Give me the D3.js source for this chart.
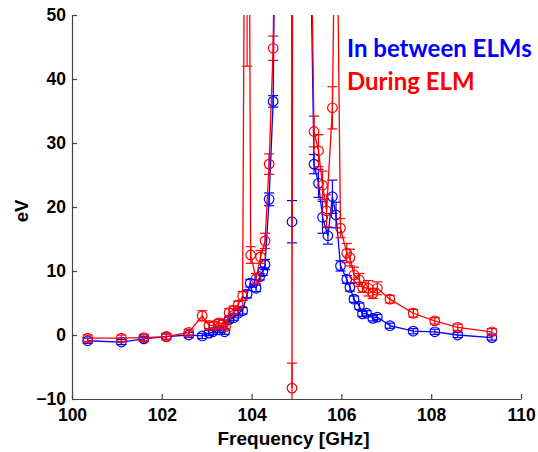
<!DOCTYPE html>
<html>
<head>
<meta charset="utf-8">
<script src="https://cdn.jsdelivr.net/npm/d3@7/dist/d3.min.js"></script>
<style>
  html, body { margin: 0; padding: 0; background: #fff; }
  svg { display: block; }
  .tick text { font-family: "Liberation Sans", Arial, sans-serif; font-weight: bold; font-size: 17.5px; fill: #000; }
  .axis path, .axis line { stroke: #444; stroke-width: 1.2; }
</style>
</head>
<body>
<svg id="chart" width="538" height="452"></svg>
<script>
// Electron temperature spectrum around the cyclotron resonance (eV vs GHz)

// In between ELMs
const betweenFreq = [100.35, 101.1, 101.6, 102.1, 102.6, 102.9, 103.05, 103.14, 103.28, 103.4,
  103.5, 103.6, 103.7, 103.8, 103.9, 103.97, 104.1, 104.18, 104.25, 104.3,
  104.39, 104.48, 104.83, 104.9, 104.95, 105.39, 105.49, 105.58, 105.7, 105.8,
  105.88, 105.98, 106.12, 106.19, 106.28, 106.4, 106.47, 106.56, 106.7, 106.8,
  107.08, 107.6, 108.08, 108.59, 109.35];
const betweenEV = [-0.9, -1.1, -0.6, -0.25, 0.0, -0.15, 0.3, 0.5, 0.8, 0.5,
  2.4, 2.7, 3.4, 3.8, 6.4, 8.1, 7.3, 9.1, 9.9, 11.0,
  21.2, 36.5, 280, 17.7, 220, 26.7, 23.7, 18.4, 15.5, 21.6,
  18.75, 10.8, 8.7, 7.45, 5.6, 4.5, 3.3, 3.4, 2.6, 2.8,
  1.45, 0.6, 0.5, 0.0, -0.4];
const betweenErr = [0.4, 0.4, 0.4, 0.4, 0.4, 0.4, 0.4, 0.4, 0.4, 0.4,
  0.4, 0.4, 0.4, 0.5, 0.6, 0.6, 0.5, 0.5, 0.6, 0.8,
  1.0, 0.9, 90, 3.3, 70, 1.5, 2.2, 2.5, 1.3, 2.6,
  2.0, 0.8, 0.6, 0.6, 0.5, 0.5, 0.4, 0.4, 0.4, 0.4,
  0.4, 0.4, 0.4, 0.4, 0.4];

// During ELM
const duringFreq = [100.35, 101.1, 101.6, 102.1, 102.6, 102.9, 103.05, 103.16, 103.27, 103.37,
  103.42, 103.5, 103.6, 103.7, 103.8, 103.9, 103.98, 104.1, 104.2, 104.3,
  104.39, 104.48, 104.86, 104.9, 104.95, 105.39, 105.49, 105.58, 105.67, 105.8,
  105.88, 105.98, 106.12, 106.19, 106.28, 106.4, 106.47, 106.6, 106.7, 106.8,
  107.08, 107.6, 108.08, 108.59, 109.35];
const duringEV = [-0.5, -0.5, -0.4, -0.25, 0.4, 3.0, 1.5, 1.5, 1.9, 1.8,
  1.3, 3.5, 3.9, 4.7, 6.1, 150, 12.5, 8.8, 12.2, 14.7,
  26.7, 44.8, 300, -8.3, 250, 31.8, 28.8, 23.4, 19.4, 35.5,
  80, 16.7, 12.8, 12.1, 9.4, 8.6, 7.45, 7.3, 6.5, 7.3,
  5.6, 3.4, 2.2, 1.2, 0.5];
const duringErr = [0.5, 0.5, 0.5, 0.5, 0.5, 0.8, 0.5, 0.5, 0.5, 0.5,
  0.5, 0.6, 0.6, 0.6, 0.7, 108, 1.3, 0.8, 1.0, 1.2,
  1.6, 1.9, 100, 3.9, 100, 2.4, 2.5, 2.2, 2.5, 3.3,
  25, 1.5, 1.5, 1.3, 1.2, 1.0, 0.8, 1.2, 0.8, 1.0,
  0.6, 0.6, 0.5, 0.5, 0.5];

const xTicks = [100, 102, 104, 106, 108, 110];
const yTicks = [-10, 0, 10, 20, 30, 40, 50];
const seriesNames = ["In between ELMs", "During ELM"];
const seriesColors = ["#0000ff", "#ff0000"];

const svg = d3.select("#chart");
const plotLeft = 72, plotRight = 521, plotTop = 15, plotBottom = 399;

const x = d3.scaleLinear().domain([100, 110]).range([plotLeft, plotRight]);
const y = d3.scaleLinear().domain([-10, 50]).range([plotBottom, plotTop]);

svg.append("defs").append("clipPath").attr("id", "plotClip")
  .append("rect").attr("x", plotLeft).attr("y", plotTop)
  .attr("width", plotRight - plotLeft).attr("height", plotBottom - plotTop);

// axes (ticks point inward, only left and bottom)
svg.append("g").attr("class", "axis")
  .attr("transform", `translate(0,${plotBottom})`)
  .call(d3.axisBottom(x).tickValues(xTicks).tickFormat(d3.format("d"))
    .tickSizeInner(-5).tickSizeOuter(0).tickPadding(10));

svg.append("g").attr("class", "axis")
  .attr("transform", `translate(${plotLeft},0)`)
  .call(d3.axisLeft(y).tickValues(yTicks).tickFormat(d3.format("d"))
    .tickSizeInner(-5).tickSizeOuter(0).tickPadding(6));

svg.append("text")
  .attr("x", (plotLeft + plotRight) / 2 - 3).attr("y", 445)
  .attr("text-anchor", "middle")
  .style("font-family", "Liberation Sans, Arial, sans-serif")
  .style("font-weight", "bold").style("font-size", "19px")
  .text("Frequency [GHz]");

svg.append("text")
  .attr("transform", `translate(28,${(plotTop + plotBottom) / 2 + 4}) rotate(-90)`)
  .attr("text-anchor", "middle")
  .style("font-family", "Liberation Sans, Arial, sans-serif")
  .style("font-weight", "bold").style("font-size", "18.5px")
  .text("eV");

const plot = svg.append("g").attr("clip-path", "url(#plotClip)");

const series = [
  { f: betweenFreq, v: betweenEV, e: betweenErr, color: seriesColors[0] },
  { f: duringFreq, v: duringEV, e: duringErr, color: seriesColors[1] }
];

const line = d3.line().x(d => x(d.f)).y(d => y(d.v));

series.forEach(s => {
  const pts = s.f.map((f, i) => ({ f, v: s.v[i], e: s.e[i] }));
  const g = plot.append("g");
  g.append("path").datum(pts)
    .attr("d", line).attr("fill", "none")
    .attr("stroke", s.color).attr("stroke-width", 1.3);

  // error bars with caps
  const eb = g.selectAll(".eb").data(pts).join("g").attr("class", "eb")
    .attr("stroke", s.color).attr("stroke-width", 1.2);
  eb.append("line")
    .attr("x1", d => x(d.f)).attr("x2", d => x(d.f))
    .attr("y1", d => y(d.v - d.e)).attr("y2", d => y(d.v + d.e));
  eb.append("line")
    .attr("x1", d => x(d.f) - 5).attr("x2", d => x(d.f) + 5)
    .attr("y1", d => y(d.v - d.e)).attr("y2", d => y(d.v - d.e));
  eb.append("line")
    .attr("x1", d => x(d.f) - 5).attr("x2", d => x(d.f) + 5)
    .attr("y1", d => y(d.v + d.e)).attr("y2", d => y(d.v + d.e));

  // open circle markers
  g.selectAll("circle").data(pts).join("circle")
    .attr("cx", d => x(d.f)).attr("cy", d => y(d.v)).attr("r", 4.8)
    .attr("fill", "none").attr("stroke", s.color).attr("stroke-width", 1.2);
});

// legend
seriesNames.forEach((name, i) => {
  svg.append("text")
    .attr("x", 347).attr("y", 57 + i * 33)
    .style("font-family", "Lato, 'Open Sans', sans-serif")
    .style("font-weight", "bold").style("font-size", "24px")
    .attr("fill", seriesColors[i])
    .text(name);
});
</script>
</body>
</html>
